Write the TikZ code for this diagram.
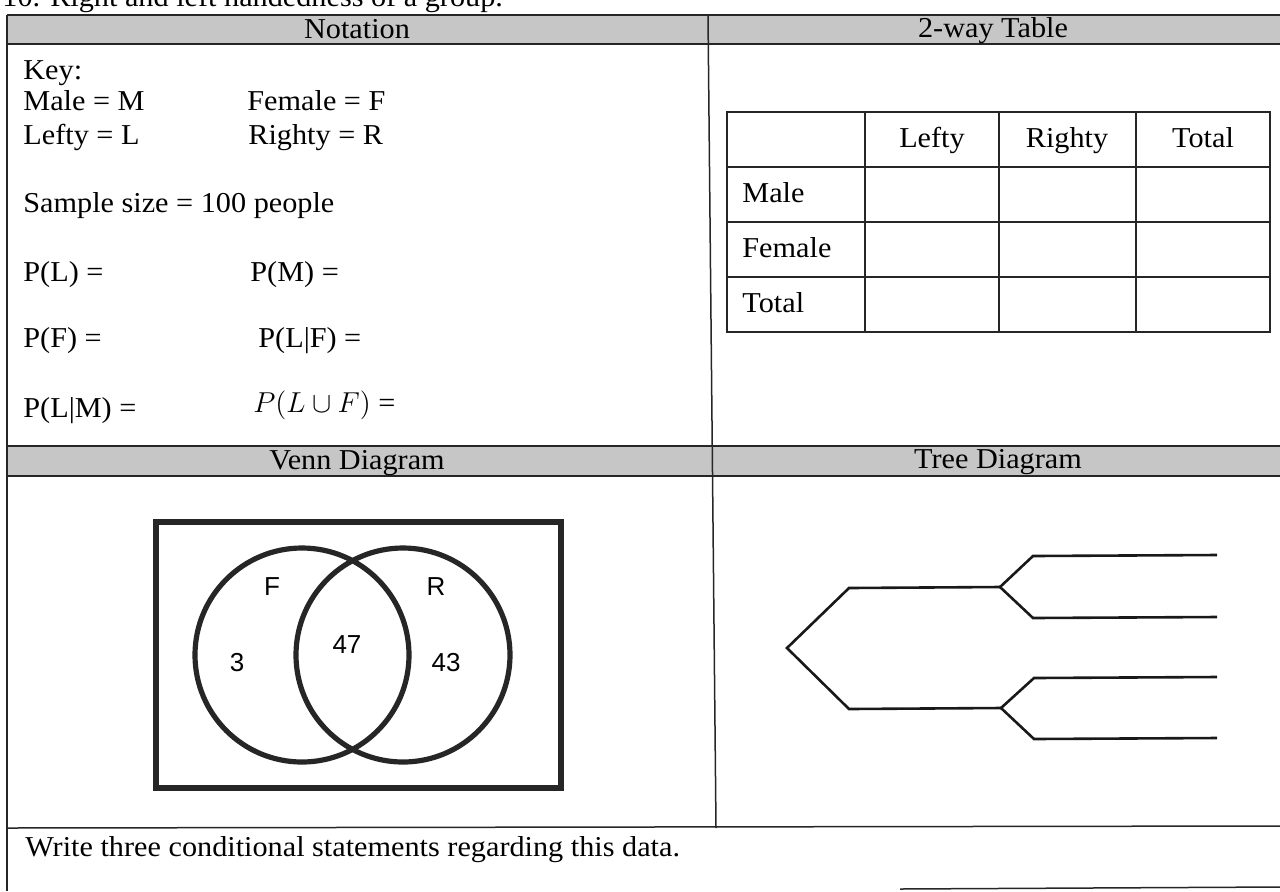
\documentclass[tikz,border=0pt]{standalone}
\usepackage{fontspec}
\setmainfont{Liberation Serif}[FakeStretch=1.05]
\newfontfamily\arialfont{Liberation Sans}
\definecolor{hdrgray}{HTML}{C6C6C6}
\begin{document}
\begin{tikzpicture}[x=0.5pt,y=-0.5pt,
  txt/.style={anchor=base west, inner sep=0pt, font=\fontsize{14.4}{17}\selectfont},
  ctxt/.style={anchor=base, inner sep=0pt, font=\fontsize{14.4}{17}\selectfont},
  vlab/.style={inner sep=0pt, font=\arialfont\fontsize{13}{15}\selectfont},
  rule/.style={line width=0.75pt, draw=black!85},
  grid/.style={line width=0.65pt, draw=black!85},
  venn/.style={line width=2.6pt, draw=black!85},
  vbox/.style={line width=3.2pt, draw=black!85},
  branch/.style={line width=1.3pt, draw=black!90, line join=miter}]
\useasboundingbox (0,0) rectangle (1280,891);
% title (cut at top)
\node[txt] (title) at (2,6) {10. Right and left handedness of a group.};
% header bands
\fill[hdrgray] (7,15) rectangle (1280,44);
\fill[hdrgray] (7,446) rectangle (1280,476);
% frame
\draw[rule] (7,15) -- (1280,15);
\draw[rule] (7,44) -- (1280,44);
\draw[rule] (7,446) -- (1280,446);
\draw[rule] (7,476) -- (1280,476);
\draw[rule] (7,828) -- (1280,826);
\draw[rule] (900,889) -- (1280,887);
\draw[rule] (7,15) -- (7,891);
\draw[rule] (708,15) -- (716,828);
% headers
\node[ctxt] (hnot) at (357,38) {Notation};
\node[ctxt] (htab) at (993,37) {2-way Table};
\node[ctxt] (hven) at (357,469) {Venn Diagram};
\node[ctxt] (htre) at (998,468) {Tree Diagram};
% notation
\node[txt] (key) at (23,79) {Key:};
\node[txt] (male) at (23,110) {Male = M};
\node[txt] (lefty) at (23,144) {Lefty = L};
\node[txt] (female) at (247,110) {Female = F};
\node[txt] (righty) at (248,144) {Righty = R};
\node[txt] (sample) at (23,212) {Sample size = 100 people};
\node[txt] (pl) at (23,281) {P(L) =};
\node[txt] (pm) at (250,281) {P(M) =};
\node[txt] (pf) at (23,347) {P(F) =};
\node[txt] (plf) at (258,347) {P(L|F) =};
\node[txt] (plm) at (23,417) {P(L|M) =};
\node[txt] (pluf) at (253,412) {$P(L\cup F)$ =};
% two-way table
\draw[grid] (727,112) rectangle (1270,332);
\foreach \y in {167,222,277} \draw[grid] (727,\y) -- (1270,\y);
\foreach \x in {865,999,1136} \draw[grid] (\x,112) -- (\x,332);
\node[ctxt] (cl) at (932,147) {Lefty};
\node[ctxt] (cr) at (1067,147) {Righty};
\node[ctxt] (ct) at (1203,147) {Total};
\node[txt] (rm) at (742,202) {Male};
\node[txt] (rf) at (742,257) {Female};
\node[txt] (rt) at (742,312) {Total};
% Venn
\draw[vbox] (156,522) rectangle (561,788);
\draw[venn] (302,655) circle [radius=107];
\draw[venn] (403,655) circle [radius=107];
\node[vlab] (lF) at (272,587) {F};
\node[vlab] (lR) at (436,587) {R};
\node[vlab] (n3) at (237,663) {3};
\node[vlab] (n47) at (347,645) {47};
\node[vlab] (n43) at (446,663) {43};
% tree
\coordinate (root) at (787,648);
\coordinate (u0) at (849,588); \coordinate (u1) at (1000,587);
\coordinate (l0) at (849,709); \coordinate (l1) at (1001,708);
\coordinate (a0) at (1033,556); \coordinate (a1) at (1217,555);
\coordinate (b0) at (1033,618); \coordinate (b1) at (1217,617);
\coordinate (c0) at (1034,678); \coordinate (c1) at (1217,677);
\coordinate (d0) at (1034,739); \coordinate (d1) at (1217,738);
\draw[branch] (u1) -- (u0) -- (root) -- (l0) -- (l1);
\draw[branch] (a1) -- (a0) -- (u1) -- (b0) -- (b1);
\draw[branch] (c1) -- (c0) -- (l1) -- (d0) -- (d1);
% bottom
\node[txt] (write) at (25,856) {Write three conditional statements regarding this data.};
\end{tikzpicture}
\end{document}
